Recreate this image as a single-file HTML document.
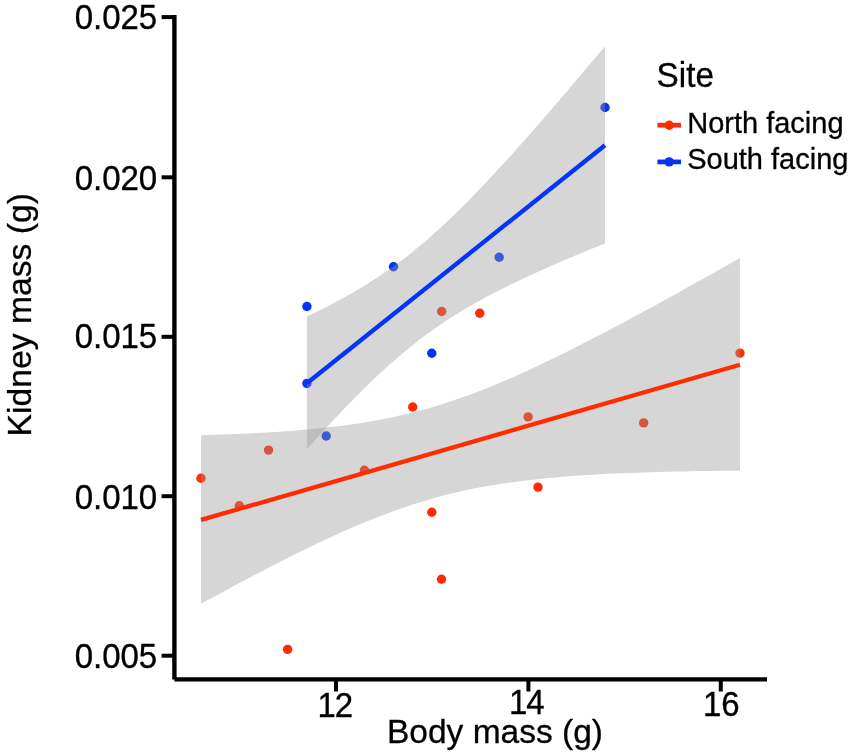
<!DOCTYPE html>
<html><head><meta charset="utf-8"><title>Kidney mass vs body mass</title>
<style>html,body{margin:0;padding:0;background:#fff}svg{display:block}</style></head>
<body><svg width="851" height="755" viewBox="0 0 851 755">
<rect width="851" height="755" fill="#fff"/>
<g><circle cx="201" cy="478.2" r="4.7" fill="#FF2C00"/><circle cx="239.3" cy="505.8" r="4.7" fill="#FF2C00"/><circle cx="268.5" cy="450.1" r="4.7" fill="#FF2C00"/><circle cx="287.6" cy="649.4" r="4.7" fill="#FF2C00"/><circle cx="364.4" cy="470.3" r="4.7" fill="#FF2C00"/><circle cx="412.7" cy="407.0" r="4.7" fill="#FF2C00"/><circle cx="431.8" cy="512.3" r="4.7" fill="#FF2C00"/><circle cx="441.7" cy="311.5" r="4.7" fill="#FF2C00"/><circle cx="441.5" cy="579.3" r="4.7" fill="#FF2C00"/><circle cx="479.8" cy="313.2" r="4.7" fill="#FF2C00"/><circle cx="528.1" cy="416.9" r="4.7" fill="#FF2C00"/><circle cx="538" cy="487.1" r="4.7" fill="#FF2C00"/><circle cx="643.7" cy="422.9" r="4.7" fill="#FF2C00"/><circle cx="740" cy="353.1" r="4.7" fill="#FF2C00"/><circle cx="306.9" cy="306.5" r="4.7" fill="#0433FA"/><circle cx="306.9" cy="383.5" r="4.7" fill="#0433FA"/><circle cx="326.2" cy="436.0" r="4.7" fill="#0433FA"/><circle cx="393.5" cy="266.8" r="4.7" fill="#0433FA"/><circle cx="431.8" cy="353.3" r="4.7" fill="#0433FA"/><circle cx="499.2" cy="257.2" r="4.7" fill="#0433FA"/><circle cx="605" cy="107.5" r="4.7" fill="#0433FA"/></g>
<path d="M201.0,435.2 L207.8,435.0 L214.6,434.8 L221.5,434.5 L228.3,434.3 L235.1,434.0 L241.9,433.7 L248.8,433.4 L255.6,433.0 L262.4,432.7 L269.2,432.3 L276.1,431.9 L282.9,431.4 L289.7,430.9 L296.5,430.4 L303.3,429.8 L310.2,429.2 L317.0,428.5 L323.8,427.8 L330.6,427.1 L337.5,426.3 L344.3,425.4 L351.1,424.4 L357.9,423.4 L364.7,422.4 L371.6,421.2 L378.4,420.0 L385.2,418.7 L392.0,417.3 L398.9,415.8 L405.7,414.2 L412.5,412.5 L419.3,410.8 L426.2,408.9 L433.0,406.9 L439.8,404.9 L446.6,402.7 L453.4,400.5 L460.3,398.1 L467.1,395.7 L473.9,393.2 L480.7,390.6 L487.6,387.9 L494.4,385.1 L501.2,382.3 L508.0,379.3 L514.8,376.4 L521.7,373.3 L528.5,370.2 L535.3,367.0 L542.1,363.8 L549.0,360.5 L555.8,357.2 L562.6,353.9 L569.4,350.5 L576.3,347.0 L583.1,343.6 L589.9,340.1 L596.7,336.5 L603.5,333.0 L610.4,329.4 L617.2,325.8 L624.0,322.2 L630.8,318.5 L637.7,314.8 L644.5,311.1 L651.3,307.4 L658.1,303.7 L664.9,299.9 L671.8,296.2 L678.6,292.4 L685.4,288.6 L692.2,284.8 L699.1,281.0 L705.9,277.2 L712.7,273.4 L719.5,269.5 L726.4,265.7 L733.2,261.8 L740.0,257.9 L740.0,470.6 L733.2,470.7 L726.4,470.7 L719.5,470.8 L712.7,470.9 L705.9,471.0 L699.1,471.1 L692.2,471.2 L685.4,471.4 L678.6,471.5 L671.8,471.7 L664.9,471.8 L658.1,472.0 L651.3,472.2 L644.5,472.4 L637.7,472.7 L630.8,472.9 L624.0,473.2 L617.2,473.5 L610.4,473.8 L603.5,474.1 L596.7,474.5 L589.9,474.9 L583.1,475.3 L576.3,475.8 L569.4,476.3 L562.6,476.8 L555.8,477.4 L549.0,478.0 L542.1,478.7 L535.3,479.4 L528.5,480.2 L521.7,481.0 L514.8,481.9 L508.0,482.8 L501.2,483.8 L494.4,484.9 L487.6,486.1 L480.7,487.3 L473.9,488.6 L467.1,490.0 L460.3,491.5 L453.4,493.1 L446.6,494.8 L439.8,496.6 L433.0,498.4 L426.2,500.4 L419.3,502.5 L412.5,504.6 L405.7,506.9 L398.9,509.2 L392.0,511.7 L385.2,514.2 L378.4,516.8 L371.6,519.5 L364.7,522.3 L357.9,525.2 L351.1,528.1 L344.3,531.1 L337.5,534.1 L330.6,537.2 L323.8,540.4 L317.0,543.6 L310.2,546.9 L303.3,550.2 L296.5,553.6 L289.7,557.0 L282.9,560.4 L276.1,563.9 L269.2,567.4 L262.4,570.9 L255.6,574.5 L248.8,578.1 L241.9,581.7 L235.1,585.3 L228.3,589.0 L221.5,592.7 L214.6,596.4 L207.8,600.1 L201.0,603.8Z" fill="#999" fill-opacity="0.4"/>
<path d="M306.9,316.6 L310.7,314.8 L314.4,312.9 L318.2,311.1 L322.0,309.2 L325.8,307.3 L329.5,305.3 L333.3,303.3 L337.1,301.3 L340.9,299.3 L344.6,297.2 L348.4,295.1 L352.2,293.0 L356.0,290.8 L359.7,288.5 L363.5,286.3 L367.3,283.9 L371.0,281.6 L374.8,279.1 L378.6,276.7 L382.4,274.1 L386.1,271.6 L389.9,268.9 L393.7,266.2 L397.5,263.5 L401.2,260.7 L405.0,257.8 L408.8,254.9 L412.6,251.9 L416.3,248.8 L420.1,245.7 L423.9,242.5 L427.6,239.3 L431.4,236.0 L435.2,232.6 L439.0,229.2 L442.7,225.7 L446.5,222.2 L450.3,218.6 L454.1,215.0 L457.8,211.3 L461.6,207.6 L465.4,203.8 L469.2,200.0 L472.9,196.1 L476.7,192.2 L480.5,188.3 L484.3,184.3 L488.0,180.3 L491.8,176.3 L495.6,172.2 L499.3,168.1 L503.1,164.0 L506.9,159.9 L510.7,155.7 L514.4,151.5 L518.2,147.3 L522.0,143.0 L525.8,138.8 L529.5,134.5 L533.3,130.2 L537.1,125.9 L540.9,121.6 L544.6,117.2 L548.4,112.9 L552.2,108.5 L555.9,104.1 L559.7,99.7 L563.5,95.3 L567.3,90.9 L571.0,86.5 L574.8,82.0 L578.6,77.6 L582.4,73.1 L586.1,68.6 L589.9,64.2 L593.7,59.7 L597.5,55.2 L601.2,50.7 L605.0,46.2 L605.0,243.4 L601.2,244.9 L597.5,246.5 L593.7,248.0 L589.9,249.5 L586.1,251.1 L582.4,252.7 L578.6,254.2 L574.8,255.8 L571.0,257.4 L567.3,259.0 L563.5,260.6 L559.7,262.2 L555.9,263.9 L552.2,265.5 L548.4,267.2 L544.6,268.8 L540.9,270.5 L537.1,272.2 L533.3,273.9 L529.5,275.7 L525.8,277.4 L522.0,279.2 L518.2,281.0 L514.4,282.8 L510.7,284.6 L506.9,286.5 L503.1,288.3 L499.3,290.2 L495.6,292.2 L491.8,294.1 L488.0,296.1 L484.3,298.2 L480.5,300.2 L476.7,302.3 L472.9,304.4 L469.2,306.6 L465.4,308.8 L461.6,311.1 L457.8,313.4 L454.1,315.7 L450.3,318.1 L446.5,320.6 L442.7,323.1 L439.0,325.6 L435.2,328.3 L431.4,330.9 L427.6,333.7 L423.9,336.4 L420.1,339.3 L416.3,342.2 L412.6,345.2 L408.8,348.2 L405.0,351.3 L401.2,354.4 L397.5,357.7 L393.7,360.9 L389.9,364.3 L386.1,367.7 L382.4,371.1 L378.6,374.6 L374.8,378.2 L371.0,381.8 L367.3,385.4 L363.5,389.1 L359.7,392.9 L356.0,396.7 L352.2,400.5 L348.4,404.4 L344.6,408.3 L340.9,412.3 L337.1,416.2 L333.3,420.3 L329.5,424.3 L325.8,428.4 L322.0,432.5 L318.2,436.6 L314.4,440.8 L310.7,445.0 L306.9,449.2Z" fill="#999" fill-opacity="0.4"/>
<line x1="201.0" y1="519.9" x2="740.0" y2="364.7" stroke="#FF2C00" stroke-width="4.3"/>
<line x1="306.9" y1="383.3" x2="605.0" y2="145.2" stroke="#0433FA" stroke-width="4.3"/>
<g stroke="#000" fill="none">
<path d="M174.4,15.1 V679.4" stroke-width="4.4"/>
<path d="M174.4,679.35 H767" stroke-width="4.3"/>
</g>
<g stroke="#000" stroke-width="4">
<line x1="161.6" x2="173" y1="17.1" y2="17.1"/><line x1="161.6" x2="173" y1="177.3" y2="177.3"/><line x1="161.6" x2="173" y1="336.8" y2="336.8"/><line x1="161.6" x2="173" y1="496.2" y2="496.2"/><line x1="161.6" x2="173" y1="655.7" y2="655.7"/><line x1="336" x2="336" y1="680" y2="691.5"/><line x1="528.4" x2="528.4" y1="680" y2="691.5"/><line x1="720.8" x2="720.8" y1="680" y2="691.5"/></g>
<g font-family="'Liberation Sans', sans-serif" font-size="33" fill="#000" stroke="#000" stroke-width="0.3">
<text transform="translate(157.2,29.4) scale(1,1.04)" text-anchor="end">0.025</text><text transform="translate(157.2,189.6) scale(1,1.04)" text-anchor="end">0.020</text><text transform="translate(157.2,347.75) scale(1,1.04)" text-anchor="end">0.015</text><text transform="translate(157.2,508.6) scale(1,1.04)" text-anchor="end">0.010</text><text transform="translate(157.2,668.15) scale(1,1.04)" text-anchor="end">0.005</text><text transform="translate(0,716.8) scale(1,1.04)" x="317.5 334.8">12</text><text transform="translate(0,714.3) scale(1,1.04)" x="509.0 526.2">14</text><text transform="translate(0,715.6) scale(1,1.04)" x="702.9 721.3">16</text><text x="495" y="742.6" font-size="33.5" text-anchor="middle">Body mass (g)</text><text transform="translate(31.2,314.7) rotate(-90)" font-size="33.7" text-anchor="middle">Kidney mass (g)</text></g>
<g font-family="'Liberation Sans', sans-serif" fill="#000" stroke="#000" stroke-width="0.3">
<text transform="translate(656.6,87.1) scale(1,1.04)" font-size="33.3">Site</text>
<text x="687.2" y="133" font-size="29">North facing</text>
<text x="687.2" y="169.3" font-size="29">South facing</text>
</g>
<line x1="657.4" x2="681" y1="125.2" y2="125.2" stroke="#FF2C00" stroke-width="4.7"/>
<circle cx="669.2" cy="125.2" r="4.7" fill="#FF2C00"/>
<line x1="657.4" x2="681" y1="161.9" y2="161.9" stroke="#0433FA" stroke-width="4.7"/>
<circle cx="669.2" cy="161.9" r="4.7" fill="#0433FA"/>
</svg></body></html>
